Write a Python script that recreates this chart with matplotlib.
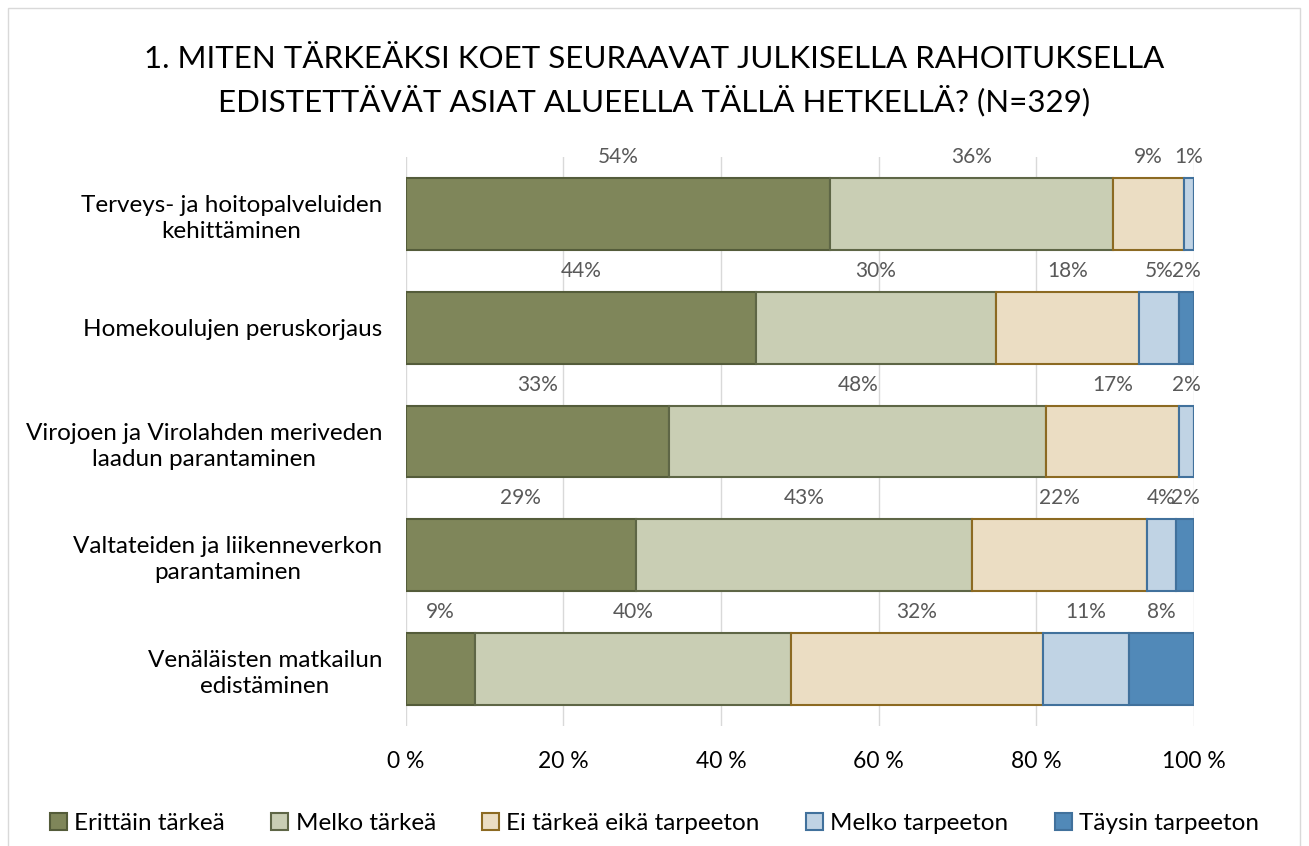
import numpy as np
import matplotlib
matplotlib.use("Agg")
import matplotlib.pyplot as plt
from matplotlib.patches import Patch, Rectangle

plt.rcParams['font.family'] = ['Lato', 'DejaVu Sans']

# Survey answers (share of respondents, %)
categories = [
    "Terveys- ja hoitopalveluiden\nkehittäminen",
    "Homekoulujen peruskorjaus",
    "Virojoen ja Virolahden meriveden\nlaadun parantaminen",
    "Valtateiden ja liikenneverkon\nparantaminen",
    "Venäläisten matkailun\nedistäminen",
]
series_names = ["Erittäin tärkeä", "Melko tärkeä", "Ei tärkeä eikä tarpeeton",
                "Melko tarpeeton", "Täysin tarpeeton"]
erittain_tarkea = [53.8, 44.4, 33.4, 29.2, 8.8]
melko_tarkea = [36.0, 30.5, 47.9, 42.6, 40.1]
ei_tarkea_eika_tarpeeton = [8.9, 18.1, 16.8, 22.2, 31.9]
melko_tarpeeton = [1.3, 5.1, 1.9, 3.8, 11.0]
taysin_tarpeeton = [0.0, 1.9, 0.0, 2.2, 8.2]

title = "1. MITEN TÄRKEÄKSI KOET SEURAAVAT JULKISELLA RAHOITUKSELLA\nEDISTETTÄVÄT ASIAT ALUEELLA TÄLLÄ HETKELLÄ? (N=329)"

fills = ["#7F865A", "#C9CEB4", "#EBDDC3", "#C0D3E4", "#5189B8"]
edges = ["#545C3A", "#5E6646", "#8C6A22", "#41719C", "#41719C"]

fig = plt.figure(figsize=(13.09, 8.46), dpi=100)
ax = fig.add_axes([0.310, 0.142, 0.602, 0.672])

series = [erittain_tarkea, melko_tarkea, ei_tarkea_eika_tarpeeton,
          melko_tarpeeton, taysin_tarpeeton]
y = np.arange(len(categories))
left = np.zeros(len(categories))
for name, vals, fc, ec in zip(series_names, series, fills, edges):
    vals = np.array(vals)
    ax.barh(y, vals, left=left, height=0.63, color=fc, edgecolor=ec,
            linewidth=1.5, label=name, zorder=3)
    for yi, (l, v) in enumerate(zip(left, vals)):
        if v > 0:
            ax.text(l + v / 2, yi - 0.5, f"{v:.0f}%", ha='center', va='center',
                    fontsize=15, color='#595959')
    left += vals

ax.set_xlim(0, 100)
ax.set_ylim(len(categories) - 0.5, -0.5)
ax.set_xticks(np.arange(0, 101, 20))
ax.set_xticklabels([f"{t} %" for t in range(0, 101, 20)], fontsize=16.5)
ax.set_yticks(y)
ax.set_yticklabels(categories, fontsize=17.5, multialignment='center',
                   linespacing=1.3)
ax.tick_params(axis='both', length=0)
ax.tick_params(axis='x', pad=18)
ax.tick_params(axis='y', pad=17)
ax.grid(axis='x', color='#D9D9D9', linewidth=1, zorder=0)
for s in ax.spines.values():
    s.set_visible(False)

fig.text(0.5, 0.905, title, ha='center', va='center', fontsize=22.5,
         linespacing=1.45)

handles = [Patch(facecolor=fc, edgecolor=ec, linewidth=1.5) for fc, ec in zip(fills, edges)]
fig.legend(handles, series_names, loc='center', bbox_to_anchor=(0.5, 0.027),
           ncol=5, frameon=False, fontsize=17.5, handlelength=0.7,
           handleheight=0.7, handletextpad=0.3, columnspacing=1.9)

fig.add_artist(Rectangle((8 / 1309, -0.01), 1292 / 1309, 0.9995 - 8 / 846 + 0.01,
                         transform=fig.transFigure, fill=False,
                         edgecolor='#D9D9D9', linewidth=1))

fig.savefig("out.png", dpi=100)
